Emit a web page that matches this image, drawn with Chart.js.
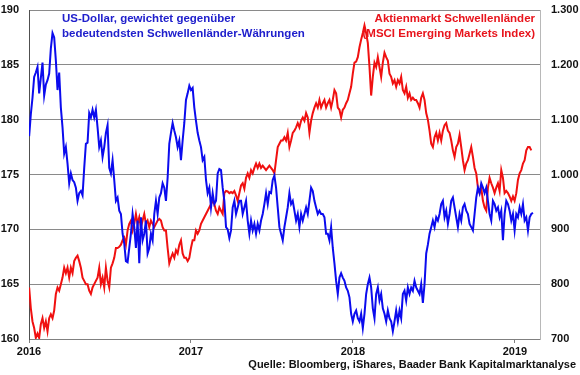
<!DOCTYPE html>
<html lang="de">
<head>
<meta charset="UTF-8" />
<title>US-Dollar vs. Aktienmarkt Schwellenländer</title>
<script src="https://cdn.jsdelivr.net/npm/chart.js@4.4.1/dist/chart.umd.min.js"></script>
<style>
  html, body { margin: 0; padding: 0; background: #fff; }
  #wrap { width: 580px; height: 375px; position: relative; }
</style>
</head>
<body>
<div id="wrap"><canvas id="chart"></canvas></div>
<script>
// observations are evenly spaced (about 3-4 days apart), starting at the beginning of 2016
const firstDate = 2016.001;
const stepYears = 0.0103;
const yearTicks = [2016, 2017, 2018, 2019];

// US-Dollar gegenüber Schwellenländer-Währungen (linke Achse)
const usdValues = [178.5,180.5,182,183.9,184.3,184.8,182.4,183.8,185.2,182.2,183.2,183.6,184.2,186.5,187.9,187.5,185.4,182.7,184.3,181.1,
  179.3,176.9,177.5,176,174.2,175.1,174.5,174.3,173.8,172.6,173.3,173.5,173.1,175.6,177.8,177.9,180.6,180.2,180.9,180.2,
  180.9,179.3,177.5,178.1,176.6,177.5,178.8,179.5,175.6,175.1,176.3,174.5,172.6,172.9,171.7,171.4,169.6,168.7,167.1,167,
  168.3,169.6,171.4,170.2,168.3,170.8,166.9,171.1,169,169.6,170.8,167.8,168.3,169.6,169,171.4,172.6,171.4,172.9,173.3,
  174.2,173.8,172.6,174.7,177.8,178.8,179.7,179,178.4,177.5,178.1,176.3,178.1,179.7,181.8,182.4,183.1,182.7,182.9,181.1,
  179.9,178.8,178.1,177.5,176.3,176.6,174.5,173.3,173.8,172,173.3,172.3,172.6,175.1,175.5,175.4,173.8,172.6,170.2,170,
  169.2,169.9,172,172.6,171.4,172,172.6,172.6,171.4,172,172.6,170.8,169.6,170.8,169.9,170.5,169.6,170.5,169.9,170.8,
  171.4,172.3,173.3,172.3,173.4,173.3,174.5,174.9,173.8,172,170.2,169.6,169,170.2,171.1,172,173.3,172.3,172.6,171.7,
  170.8,171.4,170.2,171.4,170.8,171.4,172,171.4,172.6,173.8,173.5,172.6,172,171.4,171.7,171.4,171.4,171.1,169.6,169.6,
  169,170.2,168.3,166.9,165.3,164.1,165.6,166,165.6,165.3,164.7,164.4,163.8,162.3,161.6,162.3,162.6,161.9,161.6,162.3,
  161,162.3,164.1,165,165.6,164.7,162.8,161.9,164.1,164.7,163.5,164.1,162.8,162.3,161.6,162.6,161.9,161.6,160.7,161.6,
  162.6,161.6,162.6,161.9,164.1,164.4,163.5,164.7,164.1,164.7,164.4,165.3,164.7,164.4,164.1,165,163.3,165,167.8,168.6,
  169.6,170.2,170.8,170.2,171.1,170.8,171.4,172.3,172.6,171.1,171.7,170.5,171.4,172.6,172.9,172,171.1,170.2,171.4,170.8,
  172,172.3,171.7,171.4,170.5,170.2,169.9,171.4,172.9,173.8,173.3,174.2,173.8,173.3,173.8,172.6,171.4,170.8,172.6,172.3,
  171.7,172,171.1,171.7,169,171.4,172.6,172.3,171.7,170.8,171.4,169.9,171.4,171.1,172,171.4,172.3,170.8,171.1,169.9,
  171.1,171.4,171.5];

// MSCI Emerging Markets Index (rechte Achse)
const msciValues = [794,756,732,720,702,710,702,727,738,720,732,714,738,745,738,752,782,794,788,800,
  812,830,820,830,812,830,820,842,848,852,842,830,812,806,800,800,788,782,794,800,
  806,812,830,800,812,794,830,806,794,830,838,848,866,866,868,872,880,885,872,898,
  910,916,898,910,928,910,922,904,916,928,910,916,904,916,910,904,910,916,919,916,
  904,898,898,866,838,848,856,848,862,856,872,880,856,848,848,842,848,866,880,880,
  898,892,898,910,916,922,928,934,940,946,952,946,934,928,940,934,928,966,970,969,
  966,968,966,970,962,952,966,980,984,974,994,1002,994,1008,1002,1012,1020,1012,1020,1012,
  1016,1012,1008,1012,1016,1012,1008,1002,1026,1050,1056,1062,1062,1068,1062,1076,1050,1062,1076,1080,
  1086,1094,1086,1098,1104,1098,1112,1104,1076,1098,1112,1122,1130,1122,1136,1122,1130,1136,1122,1130,
  1136,1122,1136,1154,1148,1122,1118,1104,1118,1122,1130,1136,1148,1160,1184,1204,1206,1214,1232,1246,
  1258,1272,1258,1240,1196,1144,1178,1204,1196,1214,1196,1178,1204,1222,1214,1208,1184,1178,1166,1172,
  1160,1172,1166,1178,1154,1148,1160,1140,1148,1136,1140,1136,1136,1130,1122,1140,1148,1136,1112,1100,
  1080,1056,1050,1068,1076,1062,1076,1062,1080,1090,1094,1080,1076,1062,1044,1032,1050,1056,1072,1050,
  1026,1008,1020,1026,1038,1050,1032,1012,1002,976,966,976,952,940,934,976,994,984,976,966,
  976,984,970,1008,994,966,970,966,960,952,960,952,966,990,1002,1008,1020,1026,1044,1050,
  1050,1044];

const usdLabel = ["US-Dollar, gewichtet gegenüber", "bedeutendsten Schwellenländer-Währungen"];
const msciLabel = ["Aktienmarkt Schwellenländer", "(MSCI Emerging Markets Index)"];
const sourceText = "Quelle: Bloomberg, iShares, Baader Bank Kapitalmarktanalyse";

const blue = "#0b0bee";
const red = "#f01010";
const fontFamily = '"Liberation Sans", Arial, sans-serif';

const toPoints = (vals) => vals.map((v, i) => ({ x: firstDate + i * stepYears, y: v }));

// text blocks inside the plot and the source line
const notes = {
  id: "notes",
  afterDraw(chart) {
    const { ctx, chartArea } = chart;
    ctx.save();
    ctx.font = "bold 11.5px " + fontFamily;
    ctx.textAlign = "left";
    ctx.fillStyle = "#2020cc";
    ctx.fillText(usdLabel[0], chartArea.left + 33, 22);
    ctx.fillText(usdLabel[1], chartArea.left + 33, 37);
    ctx.textAlign = "right";
    ctx.fillStyle = "#e8141c";
    ctx.fillText(msciLabel[0], chartArea.right - 5, 22);
    ctx.fillText(msciLabel[1], chartArea.right - 5, 37);
    ctx.font = "bold 11px " + fontFamily;
    ctx.fillStyle = "#111";
    ctx.fillText(sourceText, 576, 368);
    ctx.restore();
  }
};

const tickFont = { family: fontFamily, size: 11, weight: "bold" };

new Chart(document.getElementById("chart"), {
  type: "line",
  data: {
    datasets: [
      {
        label: usdLabel.join(" "),
        data: toPoints(usdValues),
        yAxisID: "y",
        borderColor: blue,
        borderWidth: 2,
        pointRadius: 0,
        tension: 0
      },
      {
        label: msciLabel.join(" "),
        data: toPoints(msciValues),
        yAxisID: "y2",
        borderColor: red,
        borderWidth: 2,
        pointRadius: 0,
        tension: 0
      }
    ]
  },
  options: {
    responsive: true,
    maintainAspectRatio: false,
    animation: false,
    layout: { padding: { top: 10, left: 0, right: 0, bottom: 0 } },
    plugins: { legend: { display: false }, tooltip: { enabled: false } },
    scales: {
      x: {
        type: "linear",
        min: 2016,
        max: 2019.155,
        afterBuildTicks: (scale) => { scale.ticks = yearTicks.map((v) => ({ value: v })); },
        afterFit: (scale) => { scale.height = 36; },
        grid: { display: true, drawOnChartArea: false, drawTicks: true, tickLength: 4, color: "#808080" },
        border: { display: true, color: "#808080" },
        ticks: { color: "#111", font: tickFont, padding: 2, maxRotation: 0, callback: (v) => String(v) }
      },
      y: {
        position: "left",
        min: 160,
        max: 190,
        afterFit: (scale) => { scale.width = 29; },
        // invisible tick marks keep the labels away from the axis
        grid: { color: "#8a8a8a", drawTicks: true, tickLength: 10, tickColor: "rgba(0,0,0,0)" },
        border: { display: true, color: "#505050" },
        ticks: { stepSize: 5, color: "#111", font: tickFont, padding: 0 }
      },
      y2: {
        position: "right",
        min: 700,
        max: 1300,
        afterFit: (scale) => { scale.width = 40; },
        grid: { drawOnChartArea: false, drawTicks: true, tickLength: 11, tickColor: "rgba(0,0,0,0)" },
        border: { display: true, color: "#b8b8b8" },
        ticks: {
          stepSize: 100,
          color: "#111",
          font: tickFont,
          padding: 0,
          callback: (v) => v.toLocaleString("de-DE")
        }
      }
    }
  },
  plugins: [notes]
});
</script>
</body>
</html>
